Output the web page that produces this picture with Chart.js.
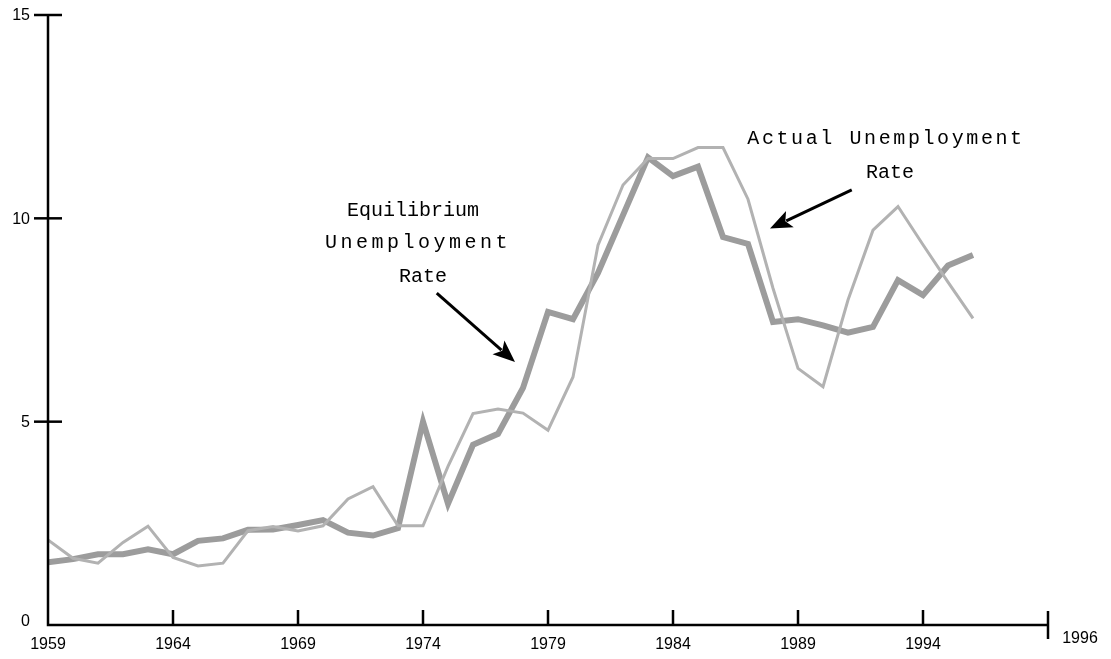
<!DOCTYPE html>
<html>
<head>
<meta charset="utf-8">
<script src="https://cdn.jsdelivr.net/npm/chart.js@4/dist/chart.umd.min.js"></script>
<style>
  html, body { margin: 0; padding: 0; background: #fff; }
  #wrap { width: 1111px; height: 659px; position: relative; }
</style>
</head>
<body>
<div id="wrap"><canvas id="chart" width="1111" height="659"></canvas></div>
<script>
// data
const years = [1959, 1960, 1961, 1962, 1963, 1964, 1965, 1966, 1967, 1968, 1969,
  1970, 1971, 1972, 1973, 1974, 1975, 1976, 1977, 1978, 1979, 1980, 1981, 1982,
  1983, 1984, 1985, 1986, 1987, 1988, 1989, 1990, 1991, 1992, 1993, 1994, 1995, 1996];
const equilibrium = [1.54, 1.62, 1.74, 1.74, 1.86, 1.74, 2.07, 2.13, 2.34, 2.35, 2.46,
  2.58, 2.27, 2.2, 2.38, 5.0, 2.98, 4.43, 4.7, 5.83, 7.7, 7.52, 8.66, 10.08,
  11.5, 11.04, 11.27, 9.54, 9.37, 7.45, 7.52, 7.37, 7.19, 7.33, 8.48, 8.11, 8.84, 9.1];
const actual = [2.09, 1.64, 1.52, 2.03, 2.43, 1.66, 1.45, 1.52, 2.32, 2.42, 2.31,
  2.44, 3.1, 3.4, 2.44, 2.44, 3.9, 5.2, 5.31, 5.21, 4.79, 6.1, 9.34, 10.82,
  11.47, 11.47, 11.74, 11.74, 10.47, 8.28, 6.31, 5.86, 7.99, 9.71, 10.29, 9.35, 8.43, 7.54];
const yTicks = [0, 5, 10, 15];
const xTicks = [1964, 1969, 1974, 1979, 1984, 1989, 1994];
const xTickLabels = ['1964', '1969', '1974', '1979', '1984', '1989', '1994'];
const xStart = 1959, xEnd = 1999;
const xStartLabel = '1959', xEndLabel = '1996';

const eqLabel = ['Equilibrium', 'Unemployment', 'Rate'];
const actLabel = ['Actual Unemployment', 'Rate'];

function arrow(ctx, x1, y1, x2, y2) {
  const a = Math.atan2(y2 - y1, x2 - x1);
  const len = 22, w = 9;
  const bx = x2 - len * Math.cos(a), by = y2 - len * Math.sin(a);
  ctx.beginPath();
  ctx.moveTo(x1, y1);
  ctx.lineTo(bx + 4 * Math.cos(a), by + 4 * Math.sin(a));
  ctx.stroke();
  ctx.beginPath();
  ctx.moveTo(x2, y2);
  ctx.lineTo(bx + w * Math.sin(a), by - w * Math.cos(a));
  ctx.lineTo(bx + 5 * Math.cos(a), by + 5 * Math.sin(a));
  ctx.lineTo(bx - w * Math.sin(a), by + w * Math.cos(a));
  ctx.closePath();
  ctx.fill();
}

const axesPlugin = {
  id: 'axesPlugin',
  afterDatasetsDraw(chart) {
    const ctx = chart.ctx;
    const xs = chart.scales.x, ys = chart.scales.y;
    const x0 = xs.getPixelForValue(xStart), x1 = xs.getPixelForValue(xEnd);
    const y0 = ys.getPixelForValue(0), yTop = ys.getPixelForValue(15);
    ctx.save();
    ctx.strokeStyle = '#000';
    ctx.fillStyle = '#000';
    ctx.lineWidth = 2.5;
    ctx.lineCap = 'butt';
    // axes
    ctx.beginPath();
    ctx.moveTo(x0, yTop);
    ctx.lineTo(x0, y0);
    ctx.lineTo(x1, y0);
    ctx.stroke();
    // y ticks
    ctx.font = '16px "Liberation Sans", Arial, sans-serif';
    ctx.textAlign = 'right';
    ctx.textBaseline = 'middle';
    yTicks.forEach(v => {
      const y = ys.getPixelForValue(v);
      if (v > 0) {
        ctx.beginPath();
        ctx.moveTo(x0 - 14, y);
        ctx.lineTo(x0 + 14, y);
        ctx.stroke();
      }
      ctx.fillText(String(v), x0 - 18, v === 0 ? y - 3 : y + 1);
    });
    // x ticks
    ctx.textAlign = 'center';
    ctx.textBaseline = 'middle';
    xTicks.forEach((v, i) => {
      const x = xs.getPixelForValue(v);
      ctx.beginPath();
      ctx.moveTo(x, y0 - 15);
      ctx.lineTo(x, y0);
      ctx.stroke();
      ctx.fillText(xTickLabels[i], x, y0 + 20);
    });
    ctx.fillText(xStartLabel, x0, y0 + 20);
    ctx.beginPath();
    ctx.moveTo(x1, y0 - 14);
    ctx.lineTo(x1, y0 + 14);
    ctx.stroke();
    ctx.fillText(xEndLabel, x1 + 32, y0 + 14);

    // annotations
    ctx.font = '20px "Liberation Mono", "Courier New", monospace';
    ctx.textBaseline = 'middle';
    ctx.textAlign = 'center';
    const eqPos = [[1973.6, 10.18], [1973.8, 9.39], [1974.0, 8.56]];
    const eqSpacing = ['0px', '3.5px', '0px'];
    eqLabel.forEach((t, i) => {
      ctx.letterSpacing = eqSpacing[i];
      ctx.fillText(t, xs.getPixelForValue(eqPos[i][0]), ys.getPixelForValue(eqPos[i][1]));
    });
    const actPos = [[1992.52, 11.97], [1992.68, 11.12]];
    const actSpacing = ['2.6px', '0px'];
    actLabel.forEach((t, i) => {
      ctx.letterSpacing = actSpacing[i];
      ctx.fillText(t, xs.getPixelForValue(actPos[i][0]), ys.getPixelForValue(actPos[i][1]));
    });
    ctx.letterSpacing = '0px';
    ctx.lineWidth = 3;
    arrow(ctx, xs.getPixelForValue(1974.55), ys.getPixelForValue(8.16),
      xs.getPixelForValue(1977.68), ys.getPixelForValue(6.47));
    arrow(ctx, xs.getPixelForValue(1991.15), ys.getPixelForValue(10.7),
      xs.getPixelForValue(1987.88), ys.getPixelForValue(9.75));
    ctx.restore();
  }
};

new Chart(document.getElementById('chart').getContext('2d'), {
  type: 'line',
  data: {
    labels: years,
    datasets: [{
      label: 'Actual Unemployment Rate',
      data: years.map((y, i) => ({ x: y, y: actual[i] })),
      borderColor: '#b2b2b2',
      borderWidth: 3,
      pointRadius: 0,
      tension: 0,
      order: 0
    }, {
      label: 'Equilibrium Unemployment Rate',
      data: years.map((y, i) => ({ x: y, y: equilibrium[i] })),
      borderColor: '#9c9c9c',
      borderWidth: 6,
      pointRadius: 0,
      tension: 0,
      borderJoinStyle: 'miter',
      order: 1
    }]
  },
  options: {
    responsive: false,
    animation: false,
    layout: { padding: { left: 48, right: 63, top: 15, bottom: 34 } },
    plugins: { legend: { display: false }, tooltip: { enabled: false } },
    scales: {
      x: { type: 'linear', min: xStart, max: xEnd, display: false },
      y: { min: 0, max: 15, display: false }
    }
  },
  plugins: [axesPlugin]
});
</script>
</body>
</html>
